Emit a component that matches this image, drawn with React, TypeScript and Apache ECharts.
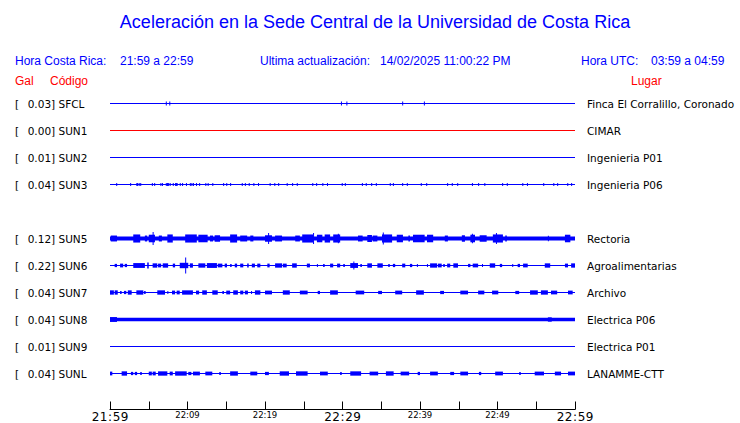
import React, { useEffect, useRef } from "react";
import * as echarts from "echarts";

const TITLE = "Aceleración en la Sede Central de la Universidad de Costa Rica";
const HEADER_LOCAL_LABEL = "Hora Costa Rica:";
const HEADER_LOCAL_RANGE = "21:59 a 22:59";
const HEADER_UPDATE_LABEL = "Ultima actualización:";
const HEADER_UPDATE_VALUE = "14/02/2025 11:00:22 PM";
const HEADER_UTC_LABEL = "Hora UTC:";
const HEADER_UTC_RANGE = "03:59 a 04:59";
const COL_GAL = "Gal";
const COL_CODE = "Código";
const COL_PLACE = "Lugar";

const CODES = ["SFCL", "SUN1", "SUN2", "SUN3", "", "SUN5", "SUN6", "SUN7", "SUN8", "SUN9", "SUNL"];
const GAL = [0.03, 0.0, 0.01, 0.04, null, 0.12, 0.22, 0.04, 0.04, 0.01, 0.04];
const PLACES = [
  "Finca El Corralillo, Coronado",
  "CIMAR",
  "Ingenieria P01",
  "Ingenieria P06",
  "",
  "Rectoria",
  "Agroalimentarias",
  "Archivo",
  "Electrica P06",
  "Electrica P01",
  "LANAMME-CTT",
];
// continuous noise floor (relative amplitude, 1 = row spacing)
const NOISE = [0, 0, 0, 0, 0, 0.07, 0, 0, 0.065, 0, 0];

// time axis: minutes after 21:59
const TIME_MIN = 0;
const TIME_MAX = 60;
const TIME_STEP = 5;
const TICK_LABELS = ["21:59", "22:09", "22:19", "22:29", "22:39", "22:49", "22:59"];

// bursts: [start minute, end minute, half amplitude]
const SFCL_BURSTS = [
  [7.2, 7.2, 0.07], [7.65, 7.65, 0.07], [29.8, 29.8, 0.07], [30.5, 30.5, 0.07],
  [37.7, 37.7, 0.07], [40.5, 40.5, 0.07],
];
const SUN1_BURSTS: number[][] = [];
const SUN2_BURSTS: number[][] = [];
const SUN3_TICKS = [
  0.8, 2.6, 3.4, 3.5, 3.7, 3.9, 5.4, 5.7, 6.5, 6.7, 7.2, 7.35, 7.5, 7.7, 8.1, 8.4, 8.5, 8.6,
  9.0, 9.3, 9.8, 10.3, 10.5, 10.7, 11.1, 11.5, 12.3, 12.6, 13.2, 14.6, 15.0, 15.5, 17.0,
  17.4, 17.9, 18.5, 19.1, 20.6, 21.2, 21.7, 22.8, 23.5, 24.1, 26.1, 26.6, 27.4, 28.0, 29.9,
  30.3, 32.5, 33.0, 33.7, 34.3, 36.1, 36.5, 37.7, 38.3, 40.1, 40.8, 43.5, 44.1, 44.8, 46.7,
  47.5, 48.3, 50.6, 51.2, 53.2, 53.8, 55.9, 57.2, 57.7, 59.0, 59.5,
];
const SUN5_BURSTS = [
  [0.1, 0.9, 0.11], [3.0, 3.9, 0.15], [4.5, 4.8, 0.11], [5.0, 5.8, 0.14], [5.5, 5.5, 0.24],
  [6.3, 6.7, 0.11], [7.4, 8.1, 0.15], [9.7, 11.2, 0.15], [11.4, 12.6, 0.14], [12.9, 13.3, 0.11],
  [13.5, 14.2, 0.12], [15.5, 16.4, 0.15], [16.8, 17.7, 0.11], [18.1, 18.5, 0.11],
  [20.0, 20.9, 0.12], [20.4, 20.4, 0.2], [21.3, 22.2, 0.11], [23.9, 24.5, 0.11],
  [24.8, 26.2, 0.15], [26.2, 26.2, 0.2], [26.7, 27.4, 0.14], [27.7, 28.4, 0.15],
  [28.8, 29.7, 0.15], [29.4, 29.4, 0.18], [32.0, 32.6, 0.11], [33.2, 33.8, 0.13],
  [33.9, 34.5, 0.11], [35.1, 36.4, 0.15], [35.2, 35.2, 0.22], [37.0, 37.8, 0.14],
  [38.5, 38.7, 0.11], [39.1, 40.6, 0.14], [40.9, 41.7, 0.14], [43.2, 43.6, 0.11],
  [45.4, 45.8, 0.12], [46.5, 47.1, 0.14], [46.7, 46.7, 0.18], [47.7, 48.6, 0.12],
  [49.4, 50.7, 0.15], [49.8, 49.8, 0.2], [51.0, 51.2, 0.11], [56.5, 56.5, 0.1],
  [58.7, 59.4, 0.14],
];
const SUN6_BURSTS = [
  [0.6, 0.9, 0.06], [1.3, 1.7, 0.07], [1.9, 2.2, 0.06], [3.0, 4.5, 0.09], [4.8, 5.0, 0.11],
  [5.5, 6.1, 0.08], [6.2, 6.6, 0.07], [6.8, 7.5, 0.08], [8.1, 8.4, 0.07], [9.0, 10.1, 0.1],
  [9.7, 9.7, 0.3], [10.3, 10.7, 0.08], [11.4, 12.3, 0.08], [12.5, 13.8, 0.09],
  [13.9, 14.5, 0.07], [14.8, 15.1, 0.07], [15.5, 15.7, 0.06], [16.1, 16.4, 0.07],
  [16.8, 17.2, 0.07], [17.7, 17.9, 0.07], [18.3, 18.7, 0.07], [19.0, 19.4, 0.07],
  [20.3, 20.6, 0.07], [21.3, 22.2, 0.08], [22.3, 22.8, 0.07], [23.5, 24.1, 0.08],
  [25.4, 25.8, 0.07], [26.7, 26.8, 0.06], [27.5, 27.7, 0.06], [28.4, 28.8, 0.07],
  [29.3, 29.7, 0.07], [30.1, 30.3, 0.06], [31.0, 32.0, 0.09], [31.4, 31.4, 0.15],
  [32.3, 32.5, 0.06], [33.2, 33.8, 0.08], [34.5, 35.2, 0.08], [35.9, 36.1, 0.06],
  [36.5, 36.8, 0.06], [37.7, 38.1, 0.07], [38.7, 39.0, 0.06], [39.6, 39.7, 0.06],
  [40.9, 41.0, 0.06], [41.3, 42.2, 0.08], [42.3, 42.8, 0.07], [43.0, 43.2, 0.06],
  [43.5, 43.9, 0.07], [44.3, 44.9, 0.08], [46.2, 46.5, 0.06], [46.8, 47.5, 0.07],
  [48.0, 48.1, 0.06], [49.0, 49.7, 0.08], [50.3, 50.6, 0.06], [51.9, 52.0, 0.06],
  [52.6, 52.9, 0.06], [53.3, 53.9, 0.07], [56.1, 56.8, 0.08], [58.7, 59.1, 0.07],
  [59.5, 60.0, 0.08],
];
const SUN7_BURSTS = [
  [0.0, 0.5, 0.08], [0.6, 1.0, 0.08], [1.3, 1.5, 0.06], [1.8, 2.1, 0.06], [2.3, 2.8, 0.08],
  [3.4, 4.3, 0.08], [4.4, 4.6, 0.06], [6.1, 7.1, 0.08], [7.4, 7.5, 0.06], [8.0, 8.4, 0.07],
  [8.6, 9.0, 0.07], [9.3, 10.7, 0.08], [11.1, 11.5, 0.07], [11.9, 12.5, 0.08],
  [13.2, 13.9, 0.08], [14.5, 14.7, 0.06], [15.0, 15.5, 0.07], [15.9, 16.5, 0.08],
  [16.8, 17.2, 0.07], [17.4, 17.8, 0.07], [18.2, 18.3, 0.06], [18.7, 19.4, 0.08],
  [20.0, 20.9, 0.07], [22.3, 23.2, 0.08], [24.5, 25.5, 0.07], [26.8, 27.1, 0.06],
  [28.4, 29.4, 0.08], [31.7, 32.8, 0.07], [34.6, 35.1, 0.06], [36.8, 37.7, 0.07],
  [39.5, 40.5, 0.08], [42.6, 43.1, 0.06], [45.2, 46.2, 0.07], [47.5, 48.3, 0.07],
  [49.3, 50.1, 0.07], [52.3, 52.8, 0.06], [54.2, 55.2, 0.08], [55.6, 56.5, 0.08],
  [56.9, 57.7, 0.07], [59.1, 59.7, 0.07],
];
const SUN8_BURSTS = [[0.0, 0.9, 0.09], [56.5, 57.0, 0.08]];
const SUN9_BURSTS: number[][] = [];
const SUNL_BURSTS = [
  [0.0, 0.3, 0.07], [1.5, 2.2, 0.08], [2.7, 3.0, 0.06], [3.2, 3.5, 0.06], [3.9, 4.1, 0.06],
  [5.0, 5.4, 0.07], [5.5, 5.9, 0.07], [6.2, 7.4, 0.08], [7.7, 8.1, 0.07], [8.4, 9.9, 0.08],
  [10.1, 10.5, 0.06], [10.7, 11.6, 0.07], [12.3, 13.2, 0.07], [14.1, 14.3, 0.06],
  [15.5, 16.5, 0.08], [18.1, 19.0, 0.07], [20.0, 20.5, 0.06], [21.9, 23.1, 0.08],
  [24.0, 25.5, 0.08], [27.1, 28.1, 0.07], [29.7, 29.9, 0.06], [31.0, 32.4, 0.08],
  [33.5, 34.6, 0.07], [35.6, 36.6, 0.08], [37.5, 38.6, 0.07], [39.7, 40.0, 0.06],
  [41.3, 42.3, 0.07], [43.9, 44.4, 0.06], [45.2, 46.2, 0.07], [47.6, 47.9, 0.06],
  [49.7, 50.7, 0.07], [52.8, 53.0, 0.06], [54.8, 56.0, 0.07], [57.4, 58.2, 0.07],
  [59.1, 60.0, 0.07],
];

const BLUE = "#0000ff";
const RED = "#ff0000";
const LABEL_FONT = "DejaVu Sans";
const HEAD_FONT = "Liberation Sans";

export default function App() {
  const ref = useRef<HTMLDivElement>(null);

  useEffect(() => {
    document.body.style.margin = "0";
    if (!ref.current) return;
    const chart = echarts.init(ref.current, undefined, { renderer: "svg" });

    const sun3Bursts = SUN3_TICKS.map((t) => [t, t, 0.06]);
    const burstSets = [
      SFCL_BURSTS, SUN1_BURSTS, SUN2_BURSTS, sun3Bursts, [], SUN5_BURSTS, SUN6_BURSTS,
      SUN7_BURSTS, SUN8_BURSTS, SUN9_BURSTS, SUNL_BURSTS,
    ];

    const rectData: number[][] = [];
    const lineSeries: any[] = [];
    CODES.forEach((code, row) => {
      if (!code) return;
      const red = code === "SUN1" ? 1 : 0;
      lineSeries.push({
        type: "line",
        data: [[TIME_MIN, row], [TIME_MAX, row]],
        symbol: "none",
        lineStyle: { width: 1, color: red ? RED : BLUE },
        silent: true,
        z: 2,
      });
      if (NOISE[row] > 0) rectData.push([TIME_MIN, TIME_MAX, row, NOISE[row], red]);
      burstSets[row].forEach((b) => rectData.push([b[0], b[1], row, b[2], red]));
    });

    const bigRich = (label: string) =>
      label
        .split("")
        .map((ch) => (ch === ":" ? "{c|:}" : `{d|${ch}}`))
        .join("");

    const option: any = {
      animation: false,
      backgroundColor: "#ffffff",
      grid: { left: 110, right: 165, top: 76.5, bottom: 13.5, containLabel: false },
      xAxis: {
        type: "value",
        min: TIME_MIN,
        max: TIME_MAX,
        interval: TIME_STEP,
        axisLine: { show: true, onZero: false, lineStyle: { color: "#000", width: 1 } },
        axisTick: { show: true, inside: true, length: 8, lineStyle: { color: "#000", width: 1 } },
        splitLine: { show: false },
        axisLabel: {
          margin: 1,
          showMinLabel: true,
          showMaxLabel: true,
          formatter: (v: number) => {
            if (v % 10 !== 0) return "";
            const label = TICK_LABELS[v / 10];
            return v % 30 === 0 ? bigRich(label) : `{s|${label}}`;
          },
          rich: {
            d: { fontFamily: LABEL_FONT, fontSize: 12, width: 8, align: "center", color: "#000", lineHeight: 13 },
            c: { fontFamily: LABEL_FONT, fontSize: 12, width: 5, align: "center", color: "#000", lineHeight: 13 },
            s: { fontFamily: LABEL_FONT, fontSize: 8.5, color: "#000", lineHeight: 9 },
          },
        },
      },
      yAxis: [
        {
          type: "value",
          inverse: true,
          min: -1,
          max: 34 / 3,
          interval: 1,
          axisLine: { show: false },
          axisTick: { show: false },
          splitLine: { show: false },
          axisLabel: {
            align: "left",
            margin: 95,
            formatter: (v: number) => {
              if (v < 0 || v > 10 || !Number.isInteger(v) || !CODES[v]) return "";
              return `{a|[}{b|${(GAL[v] as number).toFixed(2)}] ${CODES[v]}}`;
            },
            rich: {
              a: { fontFamily: LABEL_FONT, fontSize: 10.5, width: 12.7, color: "#000" },
              b: { fontFamily: LABEL_FONT, fontSize: 10.5, color: "#000" },
            },
          },
        },
        {
          type: "value",
          position: "right",
          inverse: true,
          min: -1,
          max: 34 / 3,
          interval: 1,
          axisLine: { show: false },
          axisTick: { show: false },
          splitLine: { show: false },
          axisLabel: {
            margin: 12,
            fontFamily: LABEL_FONT,
            fontSize: 10.5,
            color: "#000",
            formatter: (v: number) => {
              if (v < 0 || v > 10 || !Number.isInteger(v)) return "";
              return PLACES[v];
            },
          },
        },
      ],
      series: [
        ...lineSeries,
        {
          type: "custom",
          data: rectData,
          encode: { x: [0, 1], y: [2] },
          silent: true,
          z: 3,
          renderItem: (params: any, api: any) => {
            const s = api.value(0);
            const e = api.value(1);
            const row = api.value(2);
            const a = api.value(3);
            const p1 = api.coord([s, row - a]);
            const p2 = api.coord([e, row + a]);
            const x = Math.min(p1[0], p2[0]);
            const w = Math.max(Math.abs(p2[0] - p1[0]), 1);
            const y = Math.min(p1[1], p2[1]);
            const h = Math.max(Math.abs(p2[1] - p1[1]), 1);
            return {
              type: "rect",
              shape: { x, y, width: w, height: h },
              style: { fill: api.value(4) ? RED : BLUE },
            };
          },
        },
      ],
      graphic: [
        {
          type: "text",
          x: 375,
          y: 22,
          style: {
            text: TITLE,
            font: `18px "${HEAD_FONT}"`,
            fill: BLUE,
            textAlign: "center",
            textVerticalAlign: "middle",
          },
        },
        ...[
          [HEADER_LOCAL_LABEL, 15, BLUE, 61],
          [HEADER_LOCAL_RANGE, 120, BLUE, 61],
          [HEADER_UPDATE_LABEL, 260, BLUE, 61],
          [HEADER_UPDATE_VALUE, 380, BLUE, 61],
          [HEADER_UTC_LABEL, 581, BLUE, 61],
          [HEADER_UTC_RANGE, 651, BLUE, 61],
          [COL_GAL, 15, RED, 81],
          [COL_CODE, 50, RED, 81],
          [COL_PLACE, 631, RED, 81],
        ].map(([text, x, color, y]) => ({
          type: "text",
          x,
          y,
          style: {
            text,
            font: `12px "${HEAD_FONT}"`,
            fill: color,
            textAlign: "left",
            textVerticalAlign: "middle",
          },
        })),
      ],
    };

    chart.setOption(option);
    return () => chart.dispose();
  }, []);

  return <div ref={ref} style={{ width: 740, height: 423 }} />;
}
